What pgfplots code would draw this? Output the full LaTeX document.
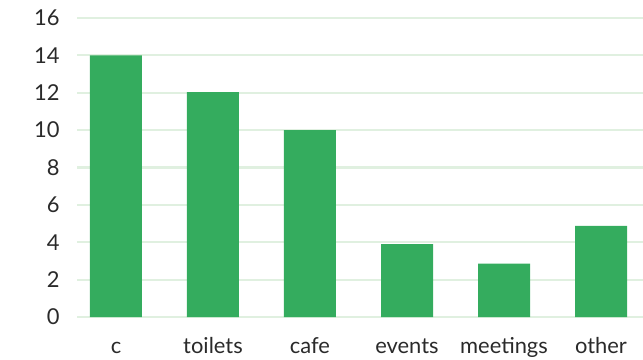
\documentclass[border=0pt]{standalone}
\usepackage{pgfplots}
\pgfplotsset{compat=1.18}
\usepackage{fontspec}
\setmainfont{Lato}
\definecolor{barg}{HTML}{34AC5E}
\definecolor{gridg}{HTML}{E0F0E0}
\definecolor{txt}{HTML}{2A2A2A}
\begin{document}
\begin{tikzpicture}
\begin{axis}[
  name=ax,
  scale only axis,
  width=566bp, height=299bp,
  xmin=-0.402, xmax=5.433,
  ymin=0, ymax=16,
  ytick={0,2,...,16},
  xtick={0,1,2,3,4,5},
  xticklabels={c,toilets,cafe,events,meetings,other},
  axis line style={draw=none},
  major tick length=0pt,
  ymajorgrids,
  grid style={gridg, line width=2.2bp},
  tick label style={font=\fontsize{22}{26}\selectfont, text=txt},
  /pgf/number format/assume math mode=true,
  yticklabel style={xshift=-14bp},
  xticklabel style={anchor=base, yshift=-36bp},
  ybar, bar width=52bp,
  clip=false,
]
\addplot[fill=barg, draw=none] coordinates {(0,14) (1,12.03) (2,10) (3,3.9) (4,2.85) (5,4.87)};
\end{axis}
\pgfresetboundingbox
\path (ax.south west) ++(-77bp,-43bp) coordinate (bl);
\path (ax.north east) ++(0bp,18bp) coordinate (tr);
\path[use as bounding box] (bl) rectangle (tr);
\end{tikzpicture}
\end{document}
